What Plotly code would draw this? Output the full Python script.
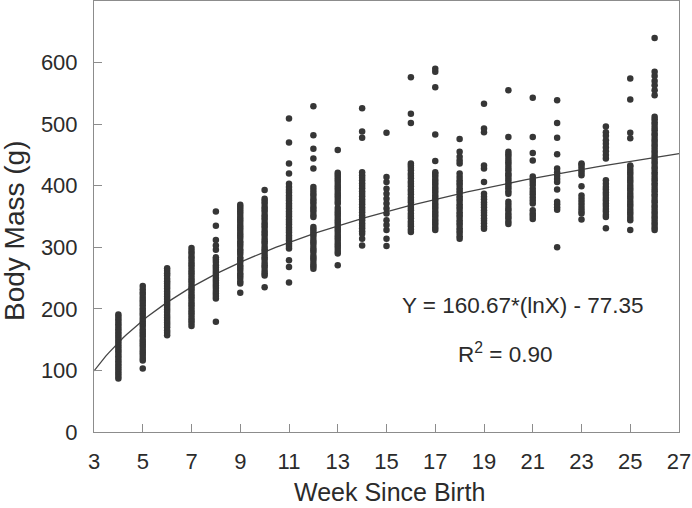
import numpy as np
import plotly.graph_objects as go

# Body mass (g) per week since birth
w04 = [87, 91, 95, 99, 103, 107, 111, 115, 119, 123, 127, 131, 135, 139, 143, 147, 151, 155, 159, 163, 167, 171, 175, 179, 183, 187, 191]
w05 = [103, 116, 120, 125, 129, 133, 138, 142, 146, 150, 155, 159, 163, 167, 172, 176, 180, 184, 189, 193, 197, 201, 206, 210, 214, 218, 223, 227, 232, 237]
w06 = [157, 161, 165, 170, 174, 178, 182, 186, 190, 195, 199, 203, 207, 211, 216, 220, 224, 228, 233, 237, 241, 245, 249, 254, 258, 262, 266]
w07 = [172, 177, 181, 185, 190, 194, 198, 203, 207, 211, 216, 220, 224, 229, 233, 237, 242, 246, 250, 255, 259, 263, 268, 272, 276, 281, 285, 290, 294, 299]
w08 = [179, 217, 221, 225, 229, 234, 238, 242, 246, 250, 255, 259, 263, 267, 271, 276, 280, 284, 296, 303, 312, 335, 358]
w09 = [226, 241, 245, 250, 254, 258, 263, 267, 271, 276, 280, 284, 289, 293, 297, 302, 306, 310, 315, 319, 323, 328, 332, 336, 341, 345, 349, 354, 358, 362, 366, 369]
w10 = [235, 254, 258, 262, 267, 271, 275, 280, 284, 288, 293, 297, 301, 306, 310, 314, 319, 323, 327, 332, 336, 340, 345, 349, 353, 358, 362, 366, 371, 375, 379, 393]
w11 = [243, 268, 279, 298, 302, 306, 311, 315, 319, 324, 328, 332, 337, 341, 345, 350, 354, 358, 363, 367, 371, 376, 380, 384, 389, 393, 398, 403, 420, 436, 470, 509]
w12 = [265, 269, 273, 278, 282, 286, 291, 295, 299, 304, 308, 312, 317, 321, 325, 329, 333, 349, 353, 358, 362, 366, 371, 375, 379, 384, 388, 393, 398, 428, 444, 460, 482, 529]
w13 = [271, 290, 294, 299, 303, 307, 312, 316, 320, 325, 329, 333, 338, 342, 346, 351, 355, 359, 364, 371, 375, 380, 384, 388, 393, 397, 401, 406, 410, 414, 418, 421, 458]
w14 = [303, 314, 322, 326, 331, 335, 339, 344, 348, 352, 357, 361, 365, 370, 374, 378, 383, 387, 391, 396, 400, 404, 409, 413, 417, 422, 478, 488, 526]
w15 = [302, 314, 328, 336, 344, 355, 363, 371, 379, 387, 395, 406, 414, 486]
w16 = [325, 329, 334, 338, 342, 347, 351, 355, 360, 364, 368, 373, 377, 381, 386, 390, 394, 399, 403, 407, 412, 416, 420, 425, 429, 433, 436, 502, 517, 576]
w17 = [328, 332, 337, 341, 345, 350, 354, 358, 363, 367, 371, 376, 380, 384, 389, 393, 397, 402, 406, 410, 415, 419, 422, 440, 483, 560, 585, 590]
w18 = [314, 318, 323, 327, 331, 336, 340, 344, 349, 353, 357, 362, 366, 370, 375, 379, 383, 388, 392, 396, 401, 405, 409, 414, 420, 436, 441, 447, 455, 476]
w19 = [330, 334, 339, 343, 347, 352, 356, 360, 365, 369, 373, 378, 382, 387, 406, 428, 433, 487, 493, 533]
w20 = [338, 342, 347, 351, 355, 360, 364, 369, 374, 387, 391, 396, 400, 404, 409, 413, 417, 420, 425, 429, 434, 438, 442, 447, 451, 455, 479, 555]
w21 = [346, 351, 355, 360, 371, 376, 381, 386, 390, 395, 401, 406, 410, 415, 441, 453, 479, 543]
w22 = [300, 361, 365, 370, 374, 394, 406, 411, 416, 422, 428, 451, 478, 502, 539]
w23 = [345, 355, 359, 364, 369, 374, 379, 384, 399, 417, 421, 425, 430, 434, 436]
w24 = [331, 349, 353, 358, 362, 367, 371, 376, 380, 385, 389, 394, 398, 403, 409, 444, 450, 456, 462, 468, 474, 481, 487, 496]
w25 = [328, 344, 348, 353, 357, 361, 366, 370, 374, 379, 383, 387, 392, 396, 400, 405, 409, 413, 418, 422, 426, 431, 433, 477, 486, 540, 574]
w26 = [328, 332, 337, 341, 346, 350, 355, 359, 364, 368, 373, 377, 382, 386, 391, 395, 400, 404, 409, 413, 418, 422, 427, 431, 436, 440, 445, 449, 454, 458, 463, 467, 472, 476, 481, 485, 490, 494, 499, 503, 508, 512, 547, 555, 563, 570, 578, 585, 640]

weeks = list(range(4, 27))
masses = [w04, w05, w06, w07, w08, w09, w10, w11, w12, w13, w14, w15, w16, w17,
          w18, w19, w20, w21, w22, w23, w24, w25, w26]

# Fitted curve shown on the chart: Y = a*ln(X) + b
fit_a = 160.67
fit_b = -77.35
fit_r2 = 0.90

x_ticks = list(range(3, 28, 2))
y_ticks = list(range(0, 700, 100))

xs, ys = [], []
for w, vals in zip(weeks, masses):
    xs.extend([w] * len(vals))
    ys.extend(vals)

fx = np.linspace(3, 27, 200)
fy = fit_a * np.log(fx) + fit_b

font_family = "Liberation Sans, Arial, Helvetica, sans-serif"
text_col = "#2b2b2b"
axis_col = "#8c8c8c"

ML, MR, MT, MB = 94, 13, 1, 76
W, H = 692, 508
PW, PH = W - ML - MR, H - MT - MB


def px_to_paper(px, py):
    return (px - ML) / PW, (H - MB - py) / PH


fig = go.Figure()
fig.add_trace(go.Scatter(x=fx, y=fy, mode="lines",
                         line=dict(color="#454545", width=1.3),
                         hoverinfo="skip", showlegend=False))
fig.add_trace(go.Scatter(x=xs, y=ys, mode="markers",
                         marker=dict(color="#363636", size=6.5, line=dict(width=0)),
                         showlegend=False))

fig.add_annotation(x=20.6, y=206, xref="x", yref="y", xanchor="center", yanchor="middle",
                   text=f"Y = {fit_a:.2f}*(lnX) - {abs(fit_b):.2f}",
                   showarrow=False, font=dict(size=22.5, color=text_col, family=font_family))
fig.add_annotation(x=19.85, y=128, xref="x", yref="y", xanchor="center", yanchor="middle",
                   text=f"R<sup>2</sup> = {fit_r2:.2f}",
                   showarrow=False, font=dict(size=22.5, color=text_col, family=font_family))

# Axis titles as annotations (pixel-placed)
tx, ty = px_to_paper(389, 492)
fig.add_annotation(x=tx, y=ty, xref="paper", yref="paper", xanchor="center", yanchor="middle",
                   text="Week Since Birth", showarrow=False,
                   font=dict(size=25, color=text_col, family=font_family))
tx, ty = px_to_paper(14, 230)
fig.add_annotation(x=tx, y=ty, xref="paper", yref="paper", xanchor="center", yanchor="middle",
                   text="Body Mass (g)", textangle=-90, showarrow=False,
                   font=dict(size=28, color=text_col, family=font_family))

fig.update_layout(
    width=W, height=H,
    margin=dict(l=ML, r=MR, t=MT, b=MB, autoexpand=False),
    paper_bgcolor="white", plot_bgcolor="white",
    font=dict(family=font_family, color=text_col),
    xaxis=dict(range=[3, 27], tickvals=x_ticks, ticktext=[str(v) for v in x_ticks],
               ticks="inside", ticklen=8, tickcolor=axis_col, tickwidth=1,
               showline=True, linecolor=axis_col, linewidth=1, mirror=True,
               showgrid=False, zeroline=False, automargin=False,
               tickfont=dict(size=22, color=text_col), ticklabelstandoff=10),
    yaxis=dict(range=[0, 700], tickvals=y_ticks, ticktext=[str(v) for v in y_ticks],
               ticks="inside", ticklen=8, tickcolor=axis_col, tickwidth=1,
               showline=True, linecolor=axis_col, linewidth=1, mirror=True,
               showgrid=False, zeroline=False, automargin=False,
               tickfont=dict(size=22, color=text_col), ticklabelstandoff=11),
)

fig.write_html("out.html", config={"displayModeBar": False},
               post_script="document.body.style.margin='0';document.body.style.padding='0';")
